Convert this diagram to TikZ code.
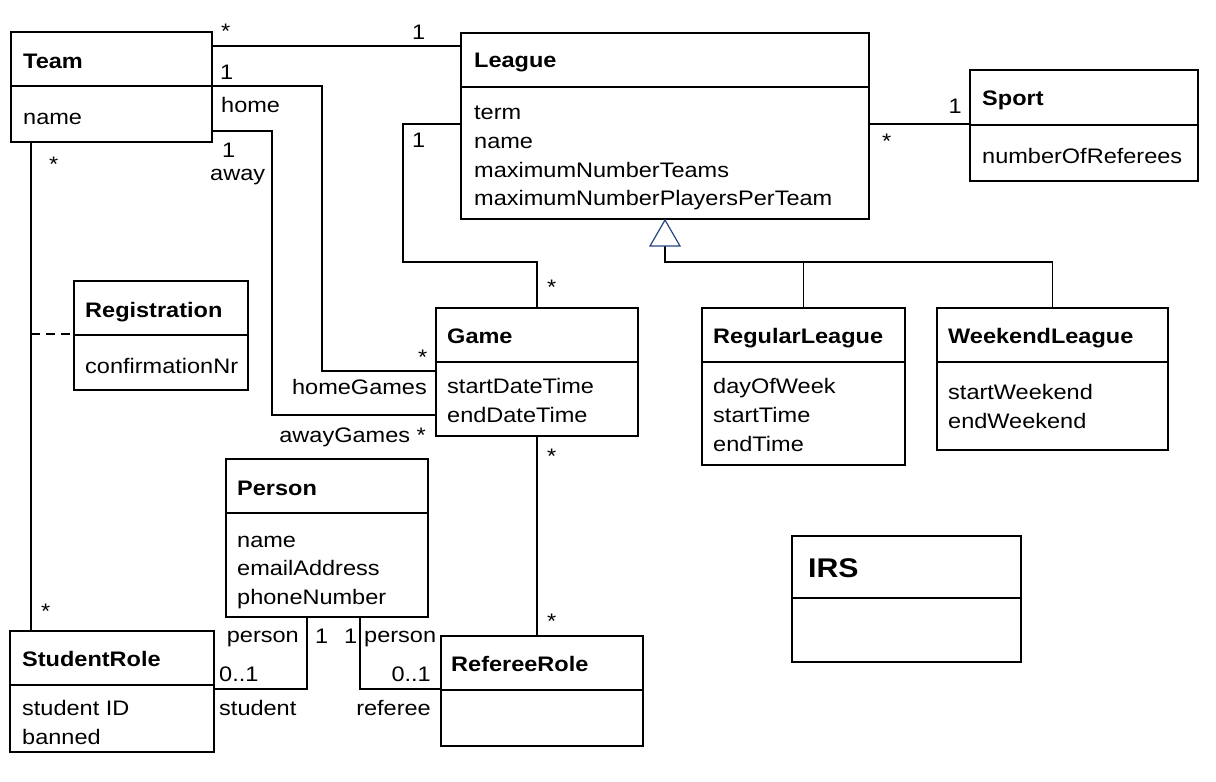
\documentclass[tikz,border=0pt]{standalone}
\usepackage{fontspec}
\setmainfont{Liberation Sans}[FakeStretch=1.12]
\newcommand\dfont{\fontsize{21}{25}\selectfont}
\definecolor{genblue}{RGB}{40,70,130}
\begin{document}
\begin{tikzpicture}[x=1pt,y=-1pt,
  box/.style={draw, line width=2pt, inner sep=0pt, anchor=north west},
  div/.style={line width=1.6pt},
  conn/.style={line width=1.8pt},
  txt/.style={inner sep=0pt, anchor=base west, font=\dfont},
  ttl/.style={inner sep=0pt, anchor=base west, font=\dfont\bfseries},
  lbl/.style={inner sep=0pt, anchor=base west, font=\dfont},
  lblr/.style={inner sep=0pt, anchor=base east, font=\dfont},
  gen/.style={draw=genblue, line width=1.2pt, fill=white}]
\useasboundingbox (0,0) rectangle (1216,782);
\fill[white] (0,0) rectangle (1216,782);

% ---------- boxes ----------
\node[box, minimum width=201pt, minimum height=110pt] (team) at (10,31) {};
\draw[div] (team.west |- 0,86) -- (team.east |- 0,86);
\node[ttl] (teamT) at (23,68) {Team};
\node[txt] (teamA) at (23,124) {name};

\node[box, minimum width=408pt, minimum height=186pt] (league) at (460,32) {};
\draw[div] (league.west |- 0,87) -- (league.east |- 0,87);
\node[ttl] (leagueT) at (474,67) {League};
\node[txt] (leagueA1) at (474,119) {term};
\node[txt] (leagueA2) at (474,148) {name};
\node[txt] (leagueA3) at (474,177) {maximumNumberTeams};
\node[txt] (leagueA4) at (474,205) {maximumNumberPlayersPerTeam};

\node[box, minimum width=228pt, minimum height=111pt] (sport) at (969,69) {};
\draw[div] (sport.west |- 0,125) -- (sport.east |- 0,125);
\node[ttl] (sportT) at (982,105) {Sport};
\node[txt] (sportA) at (982,163) {numberOfReferees};

\node[box, minimum width=174pt, minimum height=109pt] (reg) at (73,280) {};
\draw[div] (reg.west |- 0,335) -- (reg.east |- 0,335);
\node[ttl] (regT) at (85,317) {Registration};
\node[txt] (regA) at (85,373) {confirmationNr};

\node[box, minimum width=202pt, minimum height=128pt] (game) at (435,307) {};
\draw[div] (game.west |- 0,362) -- (game.east |- 0,362);
\node[ttl] (gameT) at (447,343) {Game};
\node[txt] (gameA1) at (447,393) {startDateTime};
\node[txt] (gameA2) at (447,422) {endDateTime};

\node[box, minimum width=203pt, minimum height=157pt] (regular) at (701,307) {};
\draw[div] (regular.west |- 0,362) -- (regular.east |- 0,362);
\node[ttl] (regularT) at (713,343) {RegularLeague};
\node[txt] (regularA1) at (713,393) {dayOfWeek};
\node[txt] (regularA2) at (713,422) {startTime};
\node[txt] (regularA3) at (713,451) {endTime};

\node[box, minimum width=231pt, minimum height=142pt] (weekend) at (936,307) {};
\draw[div] (weekend.west |- 0,362) -- (weekend.east |- 0,362);
\node[ttl] (weekendT) at (948,343) {WeekendLeague};
\node[txt] (weekendA1) at (948,399) {startWeekend};
\node[txt] (weekendA2) at (948,428) {endWeekend};

\node[box, minimum width=202pt, minimum height=158pt] (person) at (225,458) {};
\draw[div] (person.west |- 0,513) -- (person.east |- 0,513);
\node[ttl] (personT) at (237,495) {Person};
\node[txt] (personA1) at (237,547) {name};
\node[txt] (personA2) at (237,575) {emailAddress};
\node[txt] (personA3) at (237,604) {phoneNumber};

\node[box, minimum width=204pt, minimum height=121pt] (student) at (9,630) {};
\draw[div] (student.west |- 0,685) -- (student.east |- 0,685);
\node[ttl] (studentT) at (22,666) {StudentRole};
\node[txt] (studentA1) at (22,715) {student ID};
\node[txt] (studentA2) at (22,744) {banned};

\node[box, minimum width=202pt, minimum height=110pt] (referee) at (440,635) {};
\draw[div] (referee.west |- 0,690) -- (referee.east |- 0,690);
\node[ttl] (refereeT) at (451,671) {RefereeRole};

\node[box, minimum width=229pt, minimum height=126pt] (irs) at (791,535) {};
\draw[div] (irs.west |- 0,598) -- (irs.east |- 0,598);
\node[ttl, font=\fontsize{27}{30}\selectfont\bfseries] (irsT) at (808,577) {IRS};

% ---------- connectors ----------
\draw[conn] (team.east |- 0,46) -- (league.west |- 0,46);
\draw[conn] (team.east |- 0,86) -- (322,86) -- (322,371) -- (game.west |- 0,371);
\draw[conn] (team.east |- 0,131) -- (272,131) -- (272,415) -- (game.west |- 0,415);
\draw[conn] (league.west |- 0,124) -- (403,124) -- (403,262) -- (game.north |- 0,262) -- (game.north);
\draw[conn] (league.east |- 0,124) -- (sport.west |- 0,124);
\draw[conn] (team.south -| 31,0) -- (student.north -| 31,0);
\draw[conn, dashed, dash pattern=on 9pt off 6pt] (31,334) -- (reg.west |- 0,334);
\draw[conn] (game.south) -- (game.south |- referee.north);
\draw[conn] (person.south -| 307,0) -- (307,689) -- (student.east |- 0,689);
\draw[conn] (person.south -| 360,0) -- (360,689) -- (referee.west |- 0,689);

% generalization
\coordinate (gbase) at ([yshift=-26pt]league.south);
\draw[conn] (gbase) -- (gbase |- 0,262) -| (weekend.north);
\draw[conn] (regular.north) -- (regular.north |- 0,262);
\draw[gen] (league.south) -- ++(-15,26) -- ++(30,0) -- cycle;

% ---------- labels ----------
\node[lbl] (m1) at (221,38) {*};
\node[lbl] (m2) at (412,39) {1};
\node[lbl] (m3) at (220,79) {1};
\node[lbl] (r1) at (221,112) {home};
\node[lbl] (m4) at (222,157) {1};
\node[lbl] (r2) at (210,180) {away};
\node[lbl] (m5) at (49,171) {*};
\node[lbl] (m6) at (412,147) {1};
\node[lbl] (m7) at (547,294) {*};
\node[lbl] (m8) at (418,364) {*};
\node[lblr] (r3) at (427,394) {homeGames};
\node[lblr] (r4) at (426,442) {awayGames *};
\node[lblr] (m9) at (962,113) {1};
\node[lbl] (m10) at (882,148) {*};
\node[lbl] (m11) at (547,463) {*};
\node[lbl] (m12) at (547,628) {*};
\node[lbl] (m13) at (41,618) {*};
\node[lblr] (r5) at (299,642) {person};
\node[lbl] (m14) at (315,643) {1};
\node[lbl] (m15) at (344,643) {1};
\node[lbl] (r6) at (364,642) {person};
\node[lbl] (m16) at (219,681) {0..1};
\node[lbl] (r7) at (219,715) {student};
\node[lblr] (m17) at (431,681) {0..1};
\node[lblr] (r8) at (431,715) {referee};
\end{tikzpicture}
\end{document}
